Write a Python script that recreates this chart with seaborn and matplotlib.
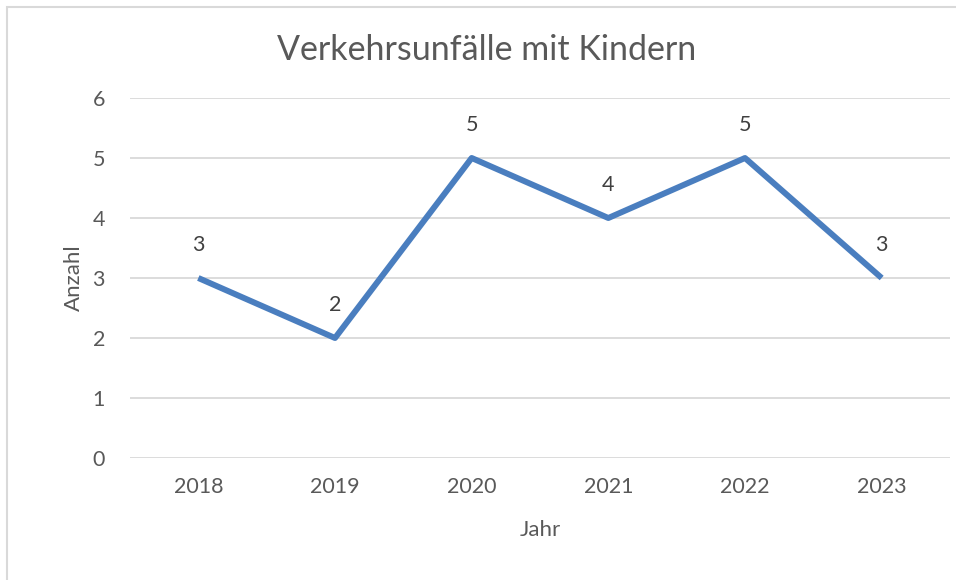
import matplotlib.pyplot as plt
import seaborn as sns
import pandas as pd
from matplotlib.patches import Rectangle

# data
years = ["2018", "2019", "2020", "2021", "2022", "2023"]
counts = [3, 2, 5, 4, 5, 3]

title = "Verkehrsunfälle mit Kindern"
x_label = "Jahr"
y_label = "Anzahl"

line_color = "#4A7EBF"
text_color = "#595959"
grid_color = "#D9D9D9"

sns.set_theme(style="white")
plt.rcParams["font.family"] = ["Lato", "DejaVu Sans"]

df = pd.DataFrame({"year": years, "count": counts})

fig = plt.figure(figsize=(9.56, 5.8), dpi=100)
ax = fig.add_axes([130 / 956, 1 - 458 / 580, 820 / 956, 360 / 580])

sns.lineplot(data=df, x="year", y="count", color=line_color, linewidth=4.3,
             sort=False, ax=ax, solid_capstyle="butt")

ax.set_xlim(-0.5, len(years) - 0.5)
ax.set_ylim(0, 6)
ax.set_yticks(range(0, 7))
ax.yaxis.grid(True, color=grid_color, linewidth=1.3)
ax.set_axisbelow(True)
for side in ["top", "right", "left", "bottom"]:
    ax.spines[side].set_visible(False)
ax.tick_params(axis="both", length=0, labelsize=15.5, labelcolor=text_color)
ax.tick_params(axis="y", pad=18)
ax.tick_params(axis="x", pad=14)

for i, v in enumerate(counts):
    ax.annotate(str(v), (i, v), xytext=(0, 24), textcoords="offset points",
                ha="center", va="center", fontsize=15.5, color="#404040")

ax.set_xlabel(x_label, fontsize=16, color=text_color, labelpad=16)
ax.set_ylabel(y_label, fontsize=16, color=text_color, labelpad=6)
fig.text(487 / 956, 1 - 50 / 580, title, ha="center", va="center",
         fontsize=24.5, color=text_color)

# chart frame
fig.patches.append(Rectangle((7 / 956, -0.05), 1.0, 1 - 7 / 580 + 0.05,
                             transform=fig.transFigure, fill=False,
                             edgecolor="#D9D9D9", linewidth=1.5))

fig.savefig("out.png", dpi=100)
